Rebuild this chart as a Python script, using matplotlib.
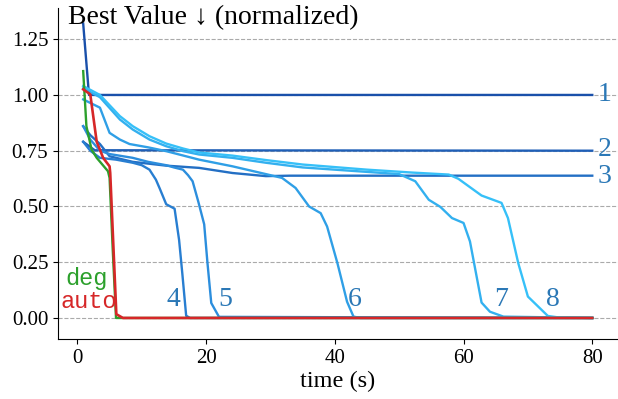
import matplotlib.pyplot as plt
import matplotlib.colors as mcolors

plt.rcParams["font.family"] = ["Liberation Serif", "DejaVu Serif"]

# blue runs 1..8 (time in s, normalized best value)
t1 = [0.9, 1.8, 80]
v1 = [1.32, 1.00, 1.00]

t2 = [0.9, 2.7, 80]
v2 = [0.79, 0.752, 0.75]

t3 = [0.9, 2.0, 3.5, 5.0, 8.6, 13.8, 18.9, 24.1, 29.3, 33, 80]
v3 = [0.86, 0.82, 0.78, 0.725, 0.70, 0.683, 0.673, 0.65, 0.636, 0.638, 0.638]

t4 = [0.9, 2.0, 3.5, 6.0, 8.6, 10.0, 11.2, 12.2, 12.8, 13.8, 15.1, 15.8, 16.3, 16.9, 17.5, 80]
v4 = [0.79, 0.75, 0.718, 0.71, 0.696, 0.685, 0.665, 0.62, 0.58, 0.51, 0.49, 0.35, 0.20, 0.01, 0.0, 0.0]

t5 = [0.9, 2.0, 3.5, 5.0, 8.6, 11.0, 13.8, 15.0, 16.4, 17.2, 17.9, 18.8, 19.7, 20.2, 20.8, 22.0, 80]
v5 = [0.86, 0.80, 0.75, 0.735, 0.718, 0.70, 0.685, 0.675, 0.665, 0.64, 0.613, 0.52, 0.42, 0.25, 0.067, 0.005, 0.0]

t6 = [0.9, 3.5, 5.0, 6.6, 8.1, 11.0, 13.8, 18.9, 24.1, 29.3, 31.8, 33.9, 36.0, 37.8, 38.8, 40.4, 41.9, 42.9, 44.0, 80]
v6 = [0.98, 0.943, 0.83, 0.80, 0.78, 0.765, 0.748, 0.71, 0.68, 0.645, 0.628, 0.583, 0.50, 0.47, 0.41, 0.246, 0.073, 0.006, 0.0, 0.0]

t7 = [0.9, 3.5, 6.6, 8.6, 11.2, 13.8, 16.4, 18.9, 24.1, 29.3, 35, 45, 50, 52.5, 54.6, 56.4, 58.2, 60.0, 61.0, 62.8, 64.1, 66.2, 80]
v7 = [1.03, 0.99, 0.89, 0.845, 0.80, 0.77, 0.748, 0.733, 0.718, 0.696, 0.675, 0.655, 0.645, 0.613, 0.53, 0.498, 0.448, 0.426, 0.343, 0.069, 0.028, 0.006, 0.0]

t8 = [0.9, 3.5, 6.6, 8.6, 11.2, 13.8, 16.4, 18.9, 24.1, 29.3, 35, 45, 52, 57.7, 59.2, 61.5, 62.8, 65.9, 66.9, 68.5, 70.0, 73.1, 74.6, 80]
v8 = [1.04, 1.00, 0.905, 0.86, 0.815, 0.782, 0.76, 0.742, 0.728, 0.708, 0.688, 0.665, 0.652, 0.643, 0.624, 0.576, 0.549, 0.516, 0.448, 0.246, 0.096, 0.009, 0.003, 0.0]

t_deg = [0.9, 1.4, 2.2, 3.0, 4.75, 5.0, 5.5, 6.0, 80]
v_deg = [1.107, 0.86, 0.755, 0.718, 0.658, 0.628, 0.30, 0.0, 0.0]

t_auto = [0.9, 2.0, 3.0, 4.0, 5.0, 5.1, 6.05, 7.07, 80]
v_auto = [1.025, 1.003, 0.79, 0.718, 0.68, 0.65, 0.017, 0.0, 0.0]

runs = [(t1, v1), (t2, v2), (t3, v3), (t4, v4), (t5, v5), (t6, v6), (t7, v7), (t8, v8)]
run_labels = ["1", "2", "3", "4", "5", "6", "7", "8"]
# label anchor positions (x, y)
label_x = [80.8, 80.8, 80.8, 14.9, 23.0, 43.1, 65.8, 73.9]
label_y = [1.0, 0.755, 0.636, 0.081, 0.081, 0.081, 0.081, 0.081]

fig, ax = plt.subplots(figsize=(6.18, 3.99), dpi=100)

cmap = mcolors.LinearSegmentedColormap.from_list("blues", ["#1a50aa", "#2a86d8", "#36c0f8"])
for i, (t, v) in enumerate(runs):
    ax.plot(t, v, color=cmap(i / 7), linewidth=1.7, zorder=2)

ax.plot(t_deg, v_deg, color="#2ca02c", linewidth=1.7, zorder=3)
ax.plot(t_auto, v_auto, color="#d62728", linewidth=1.9, zorder=4)

for lab, lx, ly in zip(run_labels, label_x, label_y):
    if lx > 80:
        ax.text(lx, ly, lab, color="#2b78b6", fontsize=20, ha="left", va="center")
    else:
        ax.text(lx, ly, lab, color="#2b78b6", fontsize=20, ha="center", va="center")

ax.text(1.5, 0.175, "deg", color="#2ca02c", fontsize=17, family="Liberation Mono", ha="center", va="center")
ax.text(1.8, 0.072, "auto", color="#d62728", fontsize=17, family="Liberation Mono", ha="center", va="center")

ax.set_xlim(-3, 84)
ax.set_ylim(-0.095, 1.39)
ax.set_yticks([0.0, 0.25, 0.5, 0.75, 1.0, 1.25])
ax.set_xticks([0, 20, 40, 60, 80])
ax.yaxis.grid(True, linestyle="--", color="#aaaaaa", linewidth=0.8)
ax.set_axisbelow(True)
ax.spines["top"].set_visible(False)
ax.spines["right"].set_visible(False)
ax.tick_params(labelsize=15)
ax.set_xlabel("time (s)", fontsize=17.5, labelpad=2)
ax.text(-1.5, 1.345, "Best Value ↓ (normalized)", fontsize=20, ha="left", va="center",
        family=["Liberation Serif", "DejaVu Sans"])

fig.subplots_adjust(left=0.094, right=1.0, bottom=0.15, top=0.98)
plt.savefig("out.png", dpi=100)
